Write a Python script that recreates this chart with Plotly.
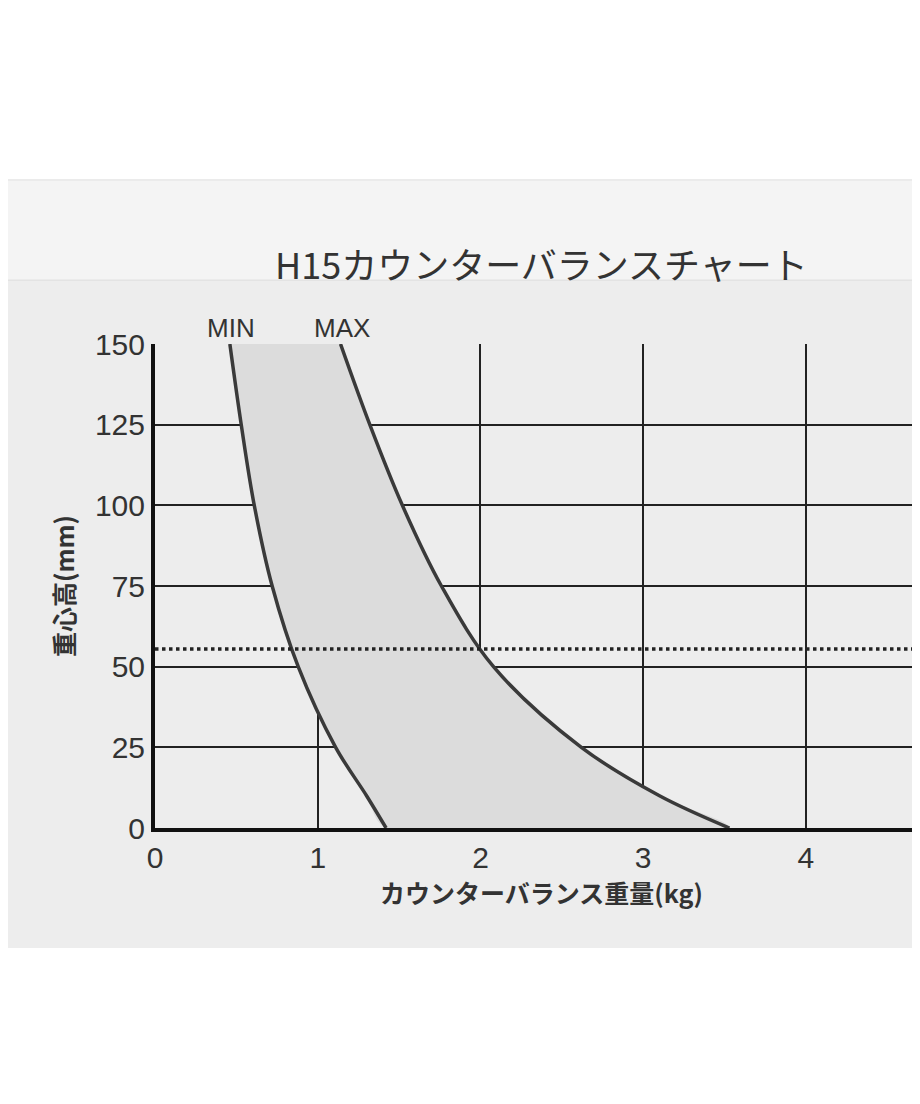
import plotly.graph_objects as go

# height of centre of gravity (mm) and counterbalance weights (kg)
heights = [150, 125, 100, 75, 50, 25, 10, 0]
min_kg = [0.46, 0.53, 0.61, 0.72, 0.88, 1.11, 1.30, 1.42]
max_kg = [1.14, 1.32, 1.52, 1.76, 2.08, 2.62, 3.10, 3.53]
ref_height = 55.5
curve_labels = ["MIN", "MAX"]
label_x = [0.47, 1.15]

fig = go.Figure()

# shaded band between MIN and MAX
fig.add_trace(go.Scatter(
    x=min_kg + max_kg[::-1], y=heights + heights[::-1],
    fill="toself", fillcolor="#dcdcdc", line=dict(width=0, shape="spline"),
    mode="lines", hoverinfo="skip", showlegend=False))

for xs in (min_kg, max_kg):
    fig.add_trace(go.Scatter(x=xs, y=heights, mode="lines",
                             line=dict(color="#3a3a3a", width=3.5, shape="spline"),
                             showlegend=False))

fig.add_trace(go.Scatter(x=[0, 4.75], y=[ref_height, ref_height], mode="lines",
                         line=dict(color="#222", width=3.5, dash="dot"),
                         showlegend=False))

for name, lx in zip(curve_labels, label_x):
    fig.add_annotation(x=lx, y=150, yshift=16, text=name, showarrow=False,
                       font=dict(size=26, color="#333", family="Liberation Sans"))

# page background bands
fig.add_shape(type="rect", xref="paper", yref="paper", x0=-0.2, x1=1, y0=-0.248, y1=1.132,
              fillcolor="#ededed", line_width=0, layer="below")
fig.add_shape(type="rect", xref="paper", yref="paper", x0=-0.2, x1=1, y0=1.132, y1=1.339,
              fillcolor="#f4f4f4", line=dict(color="#dddddd", width=1), layer="below")
fig.add_annotation(xref="paper", yref="paper", x=0.5, y=1.225, text="H15カウンターバランスチャート",
                   showarrow=False, font=dict(size=36, color="#333", family="Noto Sans CJK JP"))

fig.update_layout(
    width=920, height=1104,
    margin=dict(l=147, r=0, t=336, b=284),
    paper_bgcolor="white", plot_bgcolor="#f2f2f2",
    font=dict(family="Liberation Sans", color="#333"),
    xaxis=dict(range=[0, 4.75], dtick=1, showgrid=True, gridcolor="#222", gridwidth=2,
               showline=True, linecolor="#111", linewidth=4, zeroline=False,
               tickfont=dict(size=30), ticks="",
               title=dict(text="<b>カウンターバランス重量(kg)</b>",
                          font=dict(size=25, family="Noto Sans CJK JP"), standoff=4)),
    yaxis=dict(range=[0, 150], dtick=25, showgrid=True, gridcolor="#222", gridwidth=2,
               showline=True, linecolor="#111", linewidth=4, zeroline=False,
               tickfont=dict(size=30), ticks="",
               title=dict(text="<b>重心高(mm)</b>",
                          font=dict(size=25, family="Noto Sans CJK JP"), standoff=14)),
)

fig.write_html("out.html")
